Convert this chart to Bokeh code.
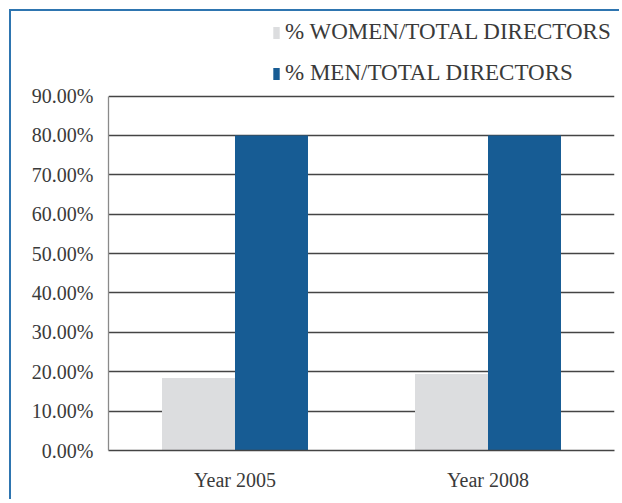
from bokeh.plotting import figure
from bokeh.models import ColumnDataSource, FactorRange, PrintfTickFormatter, Legend, LegendItem, FixedTicker
from bokeh.transform import dodge
from bokeh.embed import file_html
from bokeh.resources import INLINE

years = ["Year 2005", "Year 2008"]
women = [18.4, 19.4]
men = [80.0, 80.0]
series_labels = ["% WOMEN/TOTAL DIRECTORS", "% MEN/TOTAL DIRECTORS"]
y_ticks = [0, 10, 20, 30, 40, 50, 60, 70, 80, 90]

FONT = "Liberation Serif"
TXT = "#3a3a3a"

src = ColumnDataSource(dict(year=years, women=women, men=men))

# extra headroom above 90% leaves room for the legend inside the frame
p = figure(x_range=FactorRange(*years, range_padding=0), y_range=(0, 111.2),
           width=610, height=490, output_backend="svg", toolbar_location=None,
           min_border_left=97, min_border_right=7, min_border_top=1, min_border_bottom=51)
p.styles = {"border-left": "2px solid #2e75b0", "border-top": "2px solid #2e75b0",
            "margin-left": "9px", "margin-top": "9px"}

bw = 0.2885
r1 = p.vbar(x=dodge("year", -bw / 2, range=p.x_range), top="women", width=bw, source=src,
            fill_color="#dcdddf", line_color=None)
r2 = p.vbar(x=dodge("year", bw / 2, range=p.x_range), top="men", width=bw, source=src,
            fill_color="#175c94", line_color=None)

p.outline_line_color = None
p.background_fill_color = "white"
p.border_fill_color = "white"

p.xgrid.grid_line_color = None
p.ygrid.grid_line_color = "#444444"
p.ygrid.grid_line_width = 1.3
p.ygrid.ticker = FixedTicker(ticks=y_ticks)

p.yaxis.ticker = FixedTicker(ticks=y_ticks)
p.yaxis.bounds = (y_ticks[0], y_ticks[-1])
p.yaxis.formatter = PrintfTickFormatter(format="%.2f%%")
p.yaxis.axis_line_color = "#8a8a8a"
p.yaxis.axis_line_width = 1.3
p.yaxis.major_tick_line_color = None
p.yaxis.minor_tick_line_color = None
p.yaxis.major_tick_out = 0
p.yaxis.major_tick_in = 0
p.yaxis.major_label_standoff = 15
p.yaxis.major_label_text_font = FONT
p.yaxis.major_label_text_font_size = "20px"
p.yaxis.major_label_text_color = TXT

p.xaxis.axis_line_color = "#444444"
p.xaxis.axis_line_width = 1.3
p.xaxis.major_tick_line_color = None
p.xaxis.minor_tick_line_color = None
p.xaxis.major_tick_out = 0
p.xaxis.major_tick_in = 0
p.xaxis.major_label_standoff = 18
p.xaxis.major_label_text_font = FONT
p.xaxis.major_label_text_font_size = "20px"
p.xaxis.major_label_text_color = TXT

legend = Legend(items=[LegendItem(label=series_labels[0], renderers=[r1]),
                       LegendItem(label=series_labels[1], renderers=[r2])],
                location=(164, 364), orientation="vertical",
                glyph_width=8, glyph_height=15, label_standoff=5,
                label_height=20, spacing=15, padding=0, margin=0,
                border_line_color=None, background_fill_alpha=0,
                label_text_font="'Liberation Serif', serif", label_text_font_size="23px",
                label_text_color=TXT)
p.add_layout(legend, "center")

open("out.html", "w").write(file_html(p, INLINE))
